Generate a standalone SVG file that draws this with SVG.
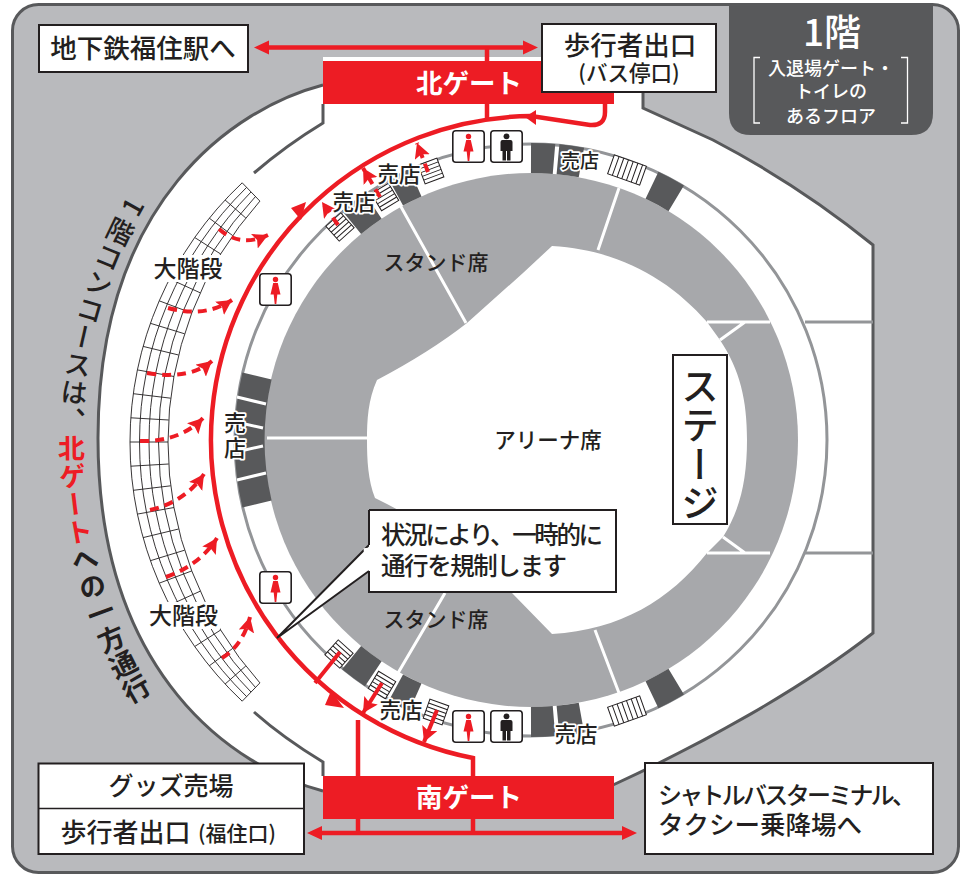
<svg xmlns="http://www.w3.org/2000/svg" width="975" height="875" viewBox="0 0 975 875">
<style>
text{font-family:"Noto Sans CJK JP","Noto Sans",sans-serif;font-weight:500;fill:#231f20;text-anchor:middle}
.box{fill:#fff;stroke:#231f20;stroke-width:2}
.edge{fill:none;stroke:#58595b;stroke-width:3}
.gl{fill:none;stroke:#939598;stroke-width:3}
.wl{fill:none;stroke:#fff;stroke-width:3}
.blk{fill:none;stroke:#58595b;stroke-width:30}
.halo{paint-order:stroke;stroke:#fff;stroke-width:3.5;stroke-linejoin:round}
.r{fill:none;stroke:#ed1c24;stroke-width:4.5}
.rf{fill:#ed1c24}
.ds{fill:none;stroke:#ed1c24;stroke-width:4;stroke-dasharray:9 6;marker-end:url(#ah)}
.sa{fill:none;stroke:#ed1c24;stroke-width:4;marker-end:url(#ah)}
.g{fill:none;stroke:#231f20;stroke-width:.9}
.wc{fill:#fff;stroke:#231f20;stroke-width:1.6}
</style>
<defs>
<marker id="ah" markerUnits="userSpaceOnUse" markerWidth="18" markerHeight="18" refX="15" refY="8" orient="auto"><path d="M0 0L15 8L0 16L3 8Z" fill="#ed1c24"/></marker>
<g id="stA"><rect x="-10" y="-10" width="20" height="20" fill="#fff" stroke="#231f20"/><path d="M-10-6H10M-10-2H10M-10 2H10M-10 6H10" stroke="#231f20" fill="none"/></g>
<g id="stB"><rect x="-17" y="-10" width="34" height="20" fill="#fff" stroke="#231f20"/><path d="M-12-10V10M-7-10V10M-2-10V10M3-10V10M8-10V10M13-10V10" stroke="#231f20" fill="none"/></g>
<g id="wom"><rect x=".8" y=".8" width="31.4" height="31.4" rx="3" class="wc"/><circle cx="16.5" cy="6.5" r="2.7" fill="#ed1c24"/><path d="M14.2 10H18.800L21.500 21.500H18.300L17.300 31H15.700L14.700 21.500H11.500Z" fill="#ed1c24"/></g>
<g id="man"><rect x=".8" y=".8" width="31.4" height="31.4" rx="3" class="wc"/><circle cx="16.500" cy="6.300" r="2.900" fill="#231f20"/><path d="M12.500 10H20.500Q22.500 10 22.500 12V21H20.500V30.500H17V21H16V30.500H12.500V21H10.500V12Q10.500 10 12.500 10Z" fill="#231f20"/></g>
</defs>

<rect id="bg" x="12.500" y="4.500" width="946" height="868" rx="26" fill="#b9babd" stroke="#58595b" stroke-width="3"/>
<path id="panel" d="M729 5H933V113Q933 135 911 135H751Q729 135 729 113Z" fill="#58595b"/>

<g id="building">
<path d="M323 57H643V108L713 140C780 175 830 210 873 245V633C800 690 700 745 613 785V800H323V791C235 768 98 676 98 438C98 200 235 108 323 85Z" fill="#fff"/>
<path class="edge" d="M323 85C235 108 98 200 98 438C98 676 235 768 323 791"/>
<path class="edge" d="M613 785C700 745 800 690 873 633V245C830 210 780 175 713 140L643 108V92"/>
<path class="edge" d="M323 104V123C295 140 275 155 254 173"/>
<path class="edge" d="M254 712C280 735 300 748 323 762V776"/>
<path class="gl" d="M805 322H873M805 553H873"/>
</g>

<g id="arena">
<circle cx="531" cy="440" r="296" fill="#fff" stroke="#939598" stroke-width="3"/>
<circle cx="531" cy="440" r="267" fill="#a7a8ab"/>
<path d="M377 380Q430 352 467 323L523 273L552 246C620 250 670 280 707 322L720 340C740 370 747 400 747 440C747 480 740 510 723 537L707 553C670 600 620 630 552 634L512 593L467 555Q430 525 375 498C368 480 367 460 367 440C367 420 368 400 377 380Z" fill="#fff"/>
<path class="wl" d="M466 323L400 205M619 188L598 250M267 438H367M445 593L398 673M595 630L619 693M707 322H770M745 322L720 340M707 553H770M745 553L723 537"/>
<path class="blk" d="M257 376A282 282 0 0 0 257 504"/>
<path class="wl" d="M237 397L266 404M236 422L263 428M236 452L263 446M237 480L266 473"/>
<path class="blk" d="M373.300 206.200A282 282 0 0 0 351.600 222.300M415.400 182.800A282 282 0 0 0 395.900 192.400M554 159A282 282 0 0 0 531 158M581.400 162.500A282 282 0 0 0 558 159.300M676.200 198.300A282 282 0 0 0 652 185.300"/>
<path class="blk" d="M373.300 673.800A282 282 0 0 1 351.600 657.700M415.400 697.200A282 282 0 0 1 395.900 687.600M554 721A282 282 0 0 1 531 722M581.400 717.500A282 282 0 0 1 558 720.700M676.200 681.700A282 282 0 0 1 652 694.700"/>
</g>

<g id="stairs-small">
<use href="#stA" transform="translate(340 227) rotate(-41.900)"/>
<use href="#stA" transform="translate(385 197) rotate(-31)"/>
<use href="#stA" transform="translate(431 171) rotate(-20.600)"/>
<use href="#stB" transform="translate(627 170) rotate(19.600)"/>
<use href="#stA" transform="translate(339 654) rotate(41.900)"/>
<use href="#stA" transform="translate(382 685) rotate(31)"/>
<use href="#stA" transform="translate(436 712) rotate(19.500)"/>
<use href="#stB" transform="translate(627 711) rotate(-19.600)"/>
</g>

<g id="grand-stairs-north">
<path class="g" d="M242.200 182.800A355.600 355.600 0 0 0 130 442M246.600 187.400A356.100 356.100 0 0 0 139.500 442M251 192A357.400 357.400 0 0 0 149 442M255.500 196.500A359.200 359.200 0 0 0 158.500 442M259.900 201.100A361.700 361.700 0 0 0 168 442"/>
<path class="g" d="M130.800 417.800L168.700 420M133.300 393.700L170.700 398.200M137.400 369.900L174 376.500M143.100 346.400L178.600 355M150.400 323.300L184.600 333.800M159.200 300.800L191.800 313.100M169.600 278.900L200.200 292.800M181.400 257.800L209.900 273.100M194.700 237.500L220.700 254M209.300 218.200L232.700 235.600M225.100 200L245.800 218M242.200 182.800L259.900 201.100"/>
<rect x="152" y="255" width="72" height="27" fill="#fff"/>
<text x="188" y="276.500" font-size="23">大階段</text>
</g>
<g id="grand-stairs-south">
<path class="g" d="M242.200 701.200A355.600 355.600 0 0 1 130 442M246.600 696.600A356.100 356.100 0 0 1 139.500 442M251 692A357.400 357.400 0 0 1 149 442M255.500 687.500A359.200 359.200 0 0 1 158.500 442M259.900 682.900A361.700 361.700 0 0 1 168 442"/>
<path class="g" d="M130 442H168M130.800 466.200L168.700 464M133.300 490.300L170.700 485.800M137.400 514.100L174 507.500M143.100 537.600L178.600 529M150.400 560.700L184.600 550.200M159.200 583.200L191.800 570.900M169.600 605.100L200.200 591.200M181.400 626.200L209.900 610.900M194.700 646.500L220.700 630M209.300 665.800L232.700 648.400M225.100 684L245.800 666M242.200 701.200L259.900 682.900"/>
<rect x="148" y="602" width="72" height="27" fill="#fff"/>
<text x="183.500" y="623.500" font-size="23">大階段</text>
</g>

<g id="gate-north"><rect x="323" y="61" width="291" height="43" fill="#ed1c24"/><text x="469" y="92.500" font-size="26.500" style="fill:#fff;font-weight:700">北ゲート</text></g>
<g id="gate-south"><rect x="323" y="776" width="291" height="43" fill="#ed1c24"/><text x="469" y="806.500" font-size="26.500" style="fill:#fff;font-weight:700">南ゲート</text></g>

<g id="connectors">
<path class="r" d="M473 776V758A324 324 0 0 1 531 116L590 125Q605 126 605 112V104"/>
<path d="M261 624L287 657" fill="none" stroke="#fff" stroke-width="5" stroke-dasharray="4 6"/>
<path class="r" d="M487 47V61M487 104V118M358 720V776M358 819V833M473 819V833"/>
<path class="r" d="M262 47.500H530M314 833H630"/>
<path class="rf" d="M254 47.500L269 40.500V54.500ZM538 47.500L523 40.500V54.500ZM307 833L322 826V840ZM637 833L622 826V840ZM306 202L291 208L301 220ZM344 708L331 691L325 705ZM525 117L536 110V125Z"/>
<path class="ds" d="M219 229Q240 248 268 235"/>
<path class="ds" d="M168 308Q205 318 232 300"/>
<path class="ds" d="M147 373Q190 380 212 361"/>
<path class="ds" d="M140 441Q180 442 203 418"/>
<path class="ds" d="M150 510Q185 502 204 474"/>
<path class="ds" d="M166 577Q200 565 217 538"/>
<path class="ds" d="M222 658Q243 645 250 617"/>
<path class="ds" d="M338 225L322 202"/>
<path class="ds" d="M380 197L363 168"/>
<path class="ds" d="M428 172L417 143"/>
<path class="r" style="stroke-width:4" d="M340 652L315 683"/>
<path class="sa" d="M382 683L363 713"/>
<path class="sa" d="M437 710L424 742"/>
</g>

<g id="wc-1"><use href="#wom" x="452" y="130"/></g>
<g id="wc-2"><use href="#man" x="490" y="130"/></g>
<g id="wc-3"><use href="#wom" x="259" y="273"/></g>
<g id="wc-4"><use href="#wom" x="259" y="571"/></g>
<g id="wc-5"><use href="#wom" x="452" y="710"/></g>
<g id="wc-6"><use href="#man" x="490" y="710"/></g>

<g id="labels">
<text x="436" y="269.500" font-size="21">スタンド席</text>
<text x="436" y="627" font-size="21">スタンド席</text>
<text x="548" y="448" font-size="21.500">アリーナ席</text>
<text class="halo" x="399" y="182" font-size="21.500">売店</text>
<text class="halo" x="354" y="210" font-size="21.500">売店</text>
<text class="halo" x="580" y="168" font-size="19">売店</text>
<text class="halo" x="401" y="718" font-size="21.500">売店</text>
<text class="halo" x="576" y="742" font-size="21.500">売店</text>
<text class="halo" x="235" y="412" font-size="22" style="writing-mode:vertical-rl;text-anchor:start;letter-spacing:3px">売店</text>
</g>

<g id="stage"><rect class="box" x="673" y="355" width="54" height="169"/>
<text x="700" y="367" font-size="38" style="writing-mode:vertical-rl;text-orientation:upright;text-anchor:start;letter-spacing:1px">ステージ</text></g>

<g id="callout">
<path d="M369 545L277 638L369 571" fill="#fff" stroke="#231f20" stroke-width="2"/>
<path d="M369 510H616V592H369V571M369 545V510" fill="#fff" stroke="#231f20" stroke-width="2"/>
<path d="M366 548L368 570" stroke="#fff" stroke-width="5"/>
<text x="381" y="544" font-size="24.500" textLength="222" style="text-anchor:start">状況により、一時的に</text>
<text x="381" y="575" font-size="24.500" textLength="186" style="text-anchor:start">通行を規制します</text>
</g>

<g id="course-label">
<path id="cp" d="M140 195A490 490 0 0 0 146 705" fill="none"/>
<text font-size="27" style="writing-mode:vertical-rl;text-orientation:upright;text-anchor:start;letter-spacing:1px"><textPath href="#cp"><tspan rotate="-90">1</tspan>階コンコースは、<tspan style="fill:#ed1c24;font-weight:700">北ゲート</tspan><tspan style="font-weight:700">への一方通行</tspan></textPath></text>
</g>

<g id="exit-subway"><rect class="box" x="39" y="25" width="209" height="47"/><text x="143" y="57.500" font-size="26.500">地下鉄福住駅へ</text></g>
<g id="exit-bus"><rect class="box" x="542" y="24" width="174" height="68"/>
<text x="630" y="54.500" font-size="26.500">歩行者出口</text><text x="629" y="81" font-size="21.500">(バス停口)</text></g>
<g id="exit-goods"><rect class="box" x="38.500" y="763.500" width="265.500" height="90.500"/><path d="M38.500 808.500H304" stroke="#231f20" stroke-width="1.500"/>
<text x="171" y="795" font-size="25">グッズ売場</text>
<text x="125.500" y="841.500" font-size="26">歩行者出口</text><text x="237" y="840.500" font-size="21">(福住口)</text></g>
<g id="exit-shuttle"><rect class="box" x="645" y="763" width="288" height="91"/>
<text x="658" y="803.500" font-size="24" textLength="258" style="text-anchor:start">シャトルバスターミナル、</text>
<text x="658" y="834" font-size="25.500" style="text-anchor:start">タクシー乗降場へ</text></g>

<g id="floor-label">
<text x="832" y="46" font-size="37" style="fill:#fff">1階</text>
<text x="831" y="75" font-size="18" style="fill:#fff">入退場ゲート・</text>
<text x="831" y="98" font-size="18" style="fill:#fff">トイレの</text>
<text x="831" y="123" font-size="18" style="fill:#fff">あるフロア</text>
<path d="M760 57.500H754V123H760M901 57.500H907.500V123H901" fill="none" stroke="#fff" stroke-width="1.300"/>
</g>
</svg>
